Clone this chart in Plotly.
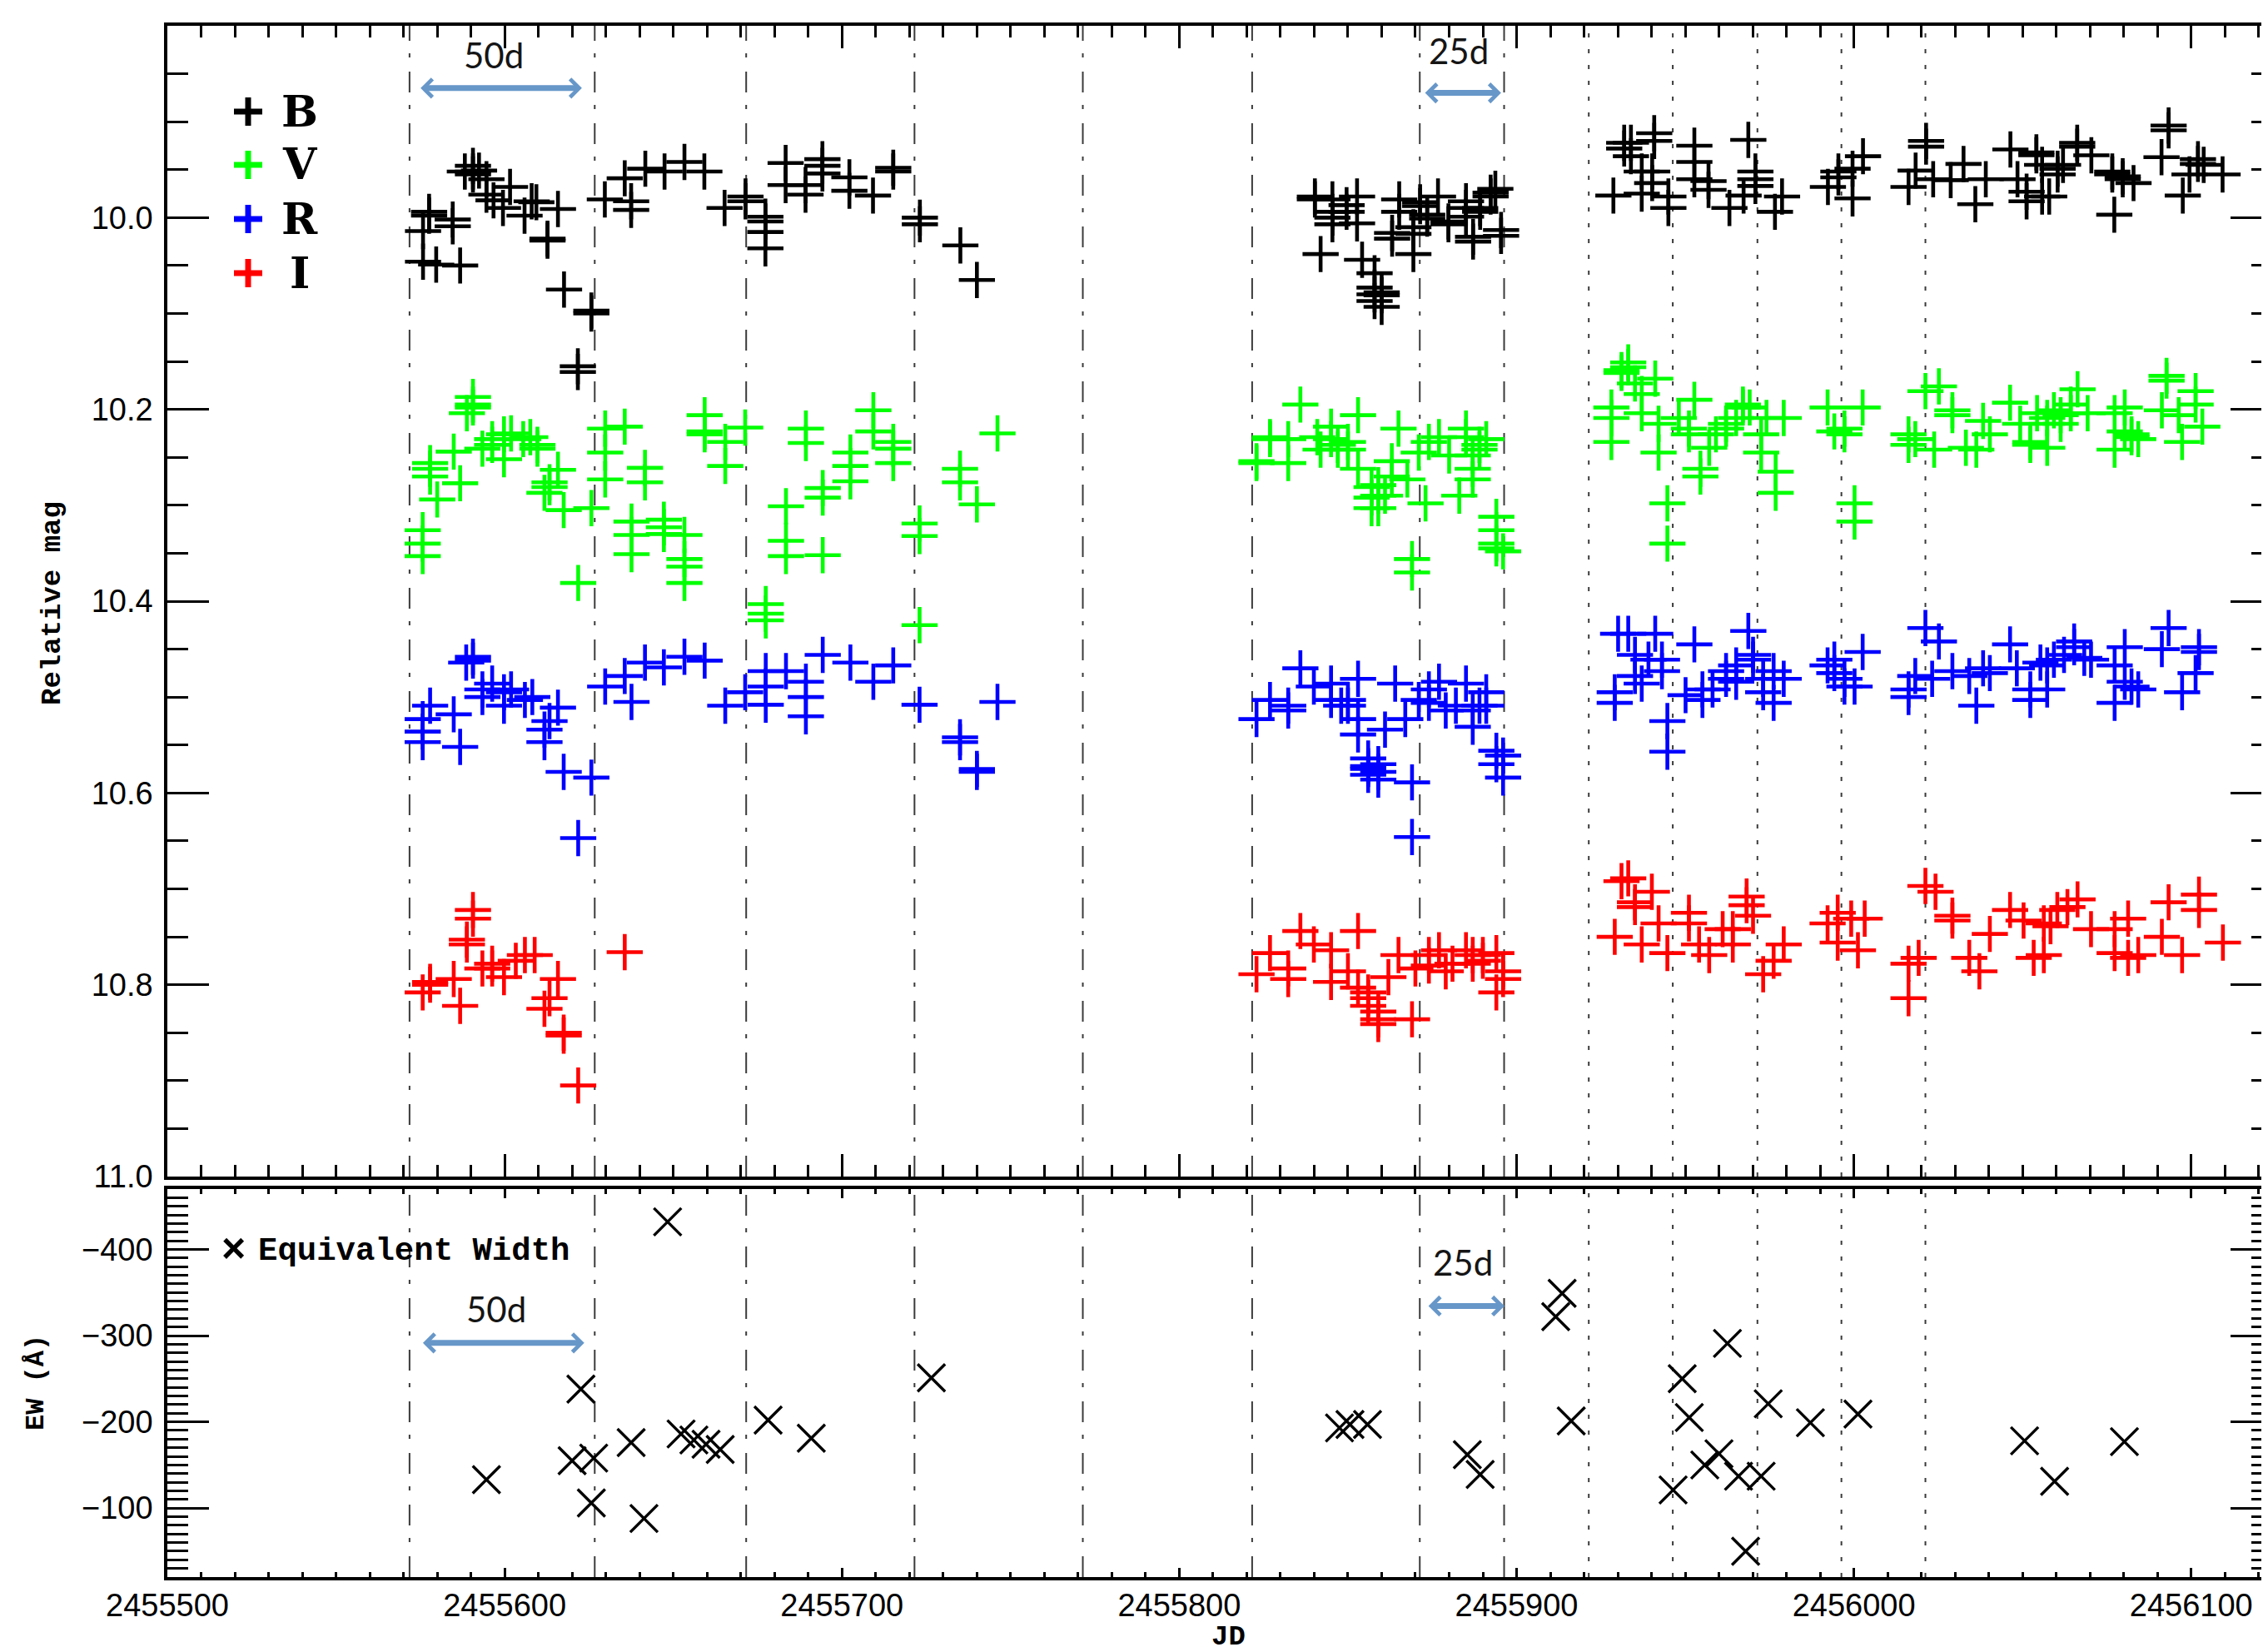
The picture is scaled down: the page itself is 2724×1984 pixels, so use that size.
import plotly.graph_objects as go

# ---------------- data ----------------
# photometry: one JD per night, list of magnitudes measured that night
B_jd = [2455575.8, 2455577.6, 2455579.7, 2455584.6, 2455586.8, 2455588.2, 2455590.6, 2455592.4, 2455594.6,
        2455596.7, 2455599.5, 2455601.6, 2455605.9, 2455608.0, 2455609.4, 2455612.7, 2455615.8, 2455617.6,
        2455621.7, 2455625.7, 2455629.7, 2455635.6, 2455637.5, 2455641.7, 2455647.4, 2455653.3, 2455659.2,
        2455665.2, 2455671.4, 2455677.3, 2455683.3, 2455689.2, 2455694.2, 2455702.2, 2455709.2, 2455715.2,
        2455723.1, 2455735.1, 2455740.0,
        2455840.2, 2455841.9, 2455845.4, 2455849.6, 2455852.7, 2455854.2, 2455857.9, 2455860.0, 2455863.1,
        2455865.2, 2455869.4, 2455871.4, 2455873.5, 2455876.7, 2455879.8, 2455885.0, 2455887.1, 2455889.2,
        2455892.3, 2455893.7, 2455895.4,
        2455928.7, 2455931.9, 2455933.9, 2455937.1, 2455940.8, 2455940.2, 2455945.0, 2455952.7, 2455956.9,
        2455963.1, 2455967.3, 2455968.7, 2455970.8, 2455976.6, 2455978.7, 2455992.3, 2455995.4, 2455999.6,
        2456002.7, 2456016.2, 2456018.3, 2456021.4, 2456023.5, 2456028.7, 2456032.5, 2456036.0, 2456039.1,
        2456046.4, 2456048.5, 2456051.2, 2456054.1, 2456055.8, 2456057.9, 2456060.4, 2456062.0, 2456066.2,
        2456070.4, 2456076.6, 2456077.2, 2456079.7, 2456082.9, 2456091.2, 2456093.3, 2456097.5, 2456099.5,
        2456102.0, 2456103.7, 2456109.3]
B_mag = [[10.014, 10.046], [9.994, 9.998], [10.049], [10.002, 10.009], [10.050], [9.952], [9.946, 9.952, 9.955],
         [9.951], [9.960, 9.976], [9.982], [9.990], [9.968], [9.998], [9.983], [9.984], [10.022, 10.024], [9.991],
         [10.075], [10.155, 10.161], [10.097, 10.100], [9.981], [9.959], [9.983, 9.992], [9.949], [9.952], [9.942],
         [9.952], [9.990], [9.978, 9.983], [9.999, 10.004, 10.015, 10.032], [9.943, 9.966], [9.966, 9.976],
         [9.939, 9.946, 9.954], [9.958, 9.972], [9.977], [9.948, 9.952], [10.000, 10.007], [10.029], [10.065],
         [9.978, 9.981], [10.038], [9.981, 9.994, 10.000, 10.007], [9.987, 9.994], [9.978, 10.006], [10.044],
         [10.058, 10.073, 10.080, 10.087], [10.078, 10.081, 10.093], [10.016, 10.022], [9.981, 9.994],
         [10.010, 10.017, 10.038], [9.984, 9.988], [9.997, 10.001], [9.978], [10.004, 10.007],
         [9.983, 9.990, 9.999], [10.020, 10.025], [9.990, 9.994], [9.974, 9.978], [9.970], [10.013, 10.019],
         [9.977], [9.922, 9.928], [9.922, 9.936], [9.952, 9.975], [9.912, 9.920], [9.952, 9.964], [9.978, 9.990],
         [9.925, 9.942, 9.960], [9.962, 9.971], [9.990], [9.977], [9.919], [9.952, 9.960, 9.967], [9.994], [9.978],
         [9.968], [9.952, 9.958], [9.949, 9.980], [9.936], [9.968], [9.951], [9.920, 9.926], [9.960], [9.961],
         [9.944], [9.986], [9.960], [9.929], [9.960], [9.973, 9.983], [9.932, 9.935], [9.945, 9.978], [9.978],
         [9.949, 9.955], [9.945], [9.922, 9.926], [9.935], [9.952, 9.955], [9.997], [9.957, 9.960], [9.964],
         [9.937], [9.904, 9.909], [9.977], [9.955], [9.939, 9.944], [9.945], [9.955]]

V_jd = [2455575.7, 2455577.9, 2455580.0, 2455584.9, 2455586.8, 2455588.8, 2455590.6, 2455593.4, 2455596.3,
        2455599.8, 2455601.9, 2455605.5, 2455607.6, 2455609.7, 2455611.8, 2455613.3, 2455615.8, 2455617.5,
        2455621.8, 2455625.7, 2455629.8, 2455635.6, 2455637.6, 2455641.6, 2455647.2, 2455653.3, 2455659.3,
        2455665.4, 2455671.3, 2455677.4, 2455683.4, 2455689.3, 2455694.3, 2455702.5, 2455709.3, 2455715.2,
        2455723.0, 2455735.0, 2455740.0, 2455746.1,
        2455822.9, 2455826.9, 2455832.3, 2455835.9, 2455840.9, 2455841.9, 2455845.0, 2455847.0, 2455850.0,
        2455853.0, 2455857.0, 2455859.0, 2455861.0, 2455863.0, 2455865.0, 2455867.6, 2455869.0, 2455871.0,
        2455873.0, 2455874.0, 2455877.0, 2455880.0, 2455883.0, 2455885.0, 2455887.0, 2455889.0, 2455891.0,
        2455894.0, 2455896.0,
        2455928.1, 2455931.1, 2455933.1, 2455935.1, 2455937.1, 2455941.1, 2455942.1, 2455944.7, 2455948.1,
        2455951.1, 2455952.7, 2455954.5, 2455957.1, 2455959.1, 2455962.1, 2455965.1, 2455967.1, 2455969.1,
        2455972.5, 2455974.1, 2455976.8, 2455979.2, 2455992.2, 2455994.2, 2455997.2, 2456000.2, 2456002.6,
        2456016.2, 2456018.2, 2456021.2, 2456023.8, 2456025.2, 2456029.2, 2456033.2, 2456036.3, 2456038.3,
        2456040.3, 2456046.3, 2456049.3, 2456052.3, 2456054.3, 2456057.3, 2456059.3, 2456061.3, 2456064.3,
        2456066.3, 2456069.3, 2456077.3, 2456080.3, 2456082.3, 2456084.3, 2456091.3, 2456092.7, 2456096.3,
        2456097.3, 2456101.3, 2456103.3]
V_mag = [[10.326, 10.340, 10.353], [10.256, 10.262, 10.270], [10.294], [10.244], [10.277], [10.204],
         [10.187, 10.195, 10.198], [10.241], [10.231, 10.237], [10.226, 10.252], [10.225], [10.231], [10.229],
         [10.237, 10.241], [10.287], [10.276, 10.281], [10.263], [10.305], [10.381], [10.303],
         [10.220, 10.245, 10.273], [10.218], [10.317, 10.331, 10.351], [10.261, 10.276], [10.315, 10.323, 10.330],
         [10.331, 10.356, 10.364, 10.381], [10.206, 10.223, 10.226], [10.234, 10.259], [10.219],
         [10.403, 10.413, 10.420], [10.301, 10.337, 10.353], [10.220, 10.235], [10.282, 10.292, 10.352],
         [10.245, 10.259, 10.275], [10.201, 10.223], [10.234, 10.241, 10.256], [10.319, 10.332, 10.425],
         [10.262, 10.276], [10.299], [10.225],
         [10.254, 10.256], [10.229, 10.231], [10.231, 10.256], [10.195], [10.229], [10.242], [10.218, 10.231],
         [10.237, 10.242], [10.234, 10.242], [10.206, 10.262], [10.281, 10.292, 10.303], [10.279, 10.290, 10.303],
         [10.290], [10.254, 10.270], [10.220], [10.273], [10.356, 10.370], [10.245], [10.298], [10.234], [10.229],
         [10.248], [10.290], [10.220, 10.229], [10.248, 10.262, 10.273], [10.237, 10.242], [10.231],
         [10.312, 10.326, 10.340, 10.345], [10.348],
         [10.198, 10.209, 10.234], [10.159, 10.162], [10.151, 10.156], [10.173], [10.184, 10.204], [10.168],
         [10.215, 10.245], [10.298, 10.340], [10.209], [10.220, 10.226], [10.190], [10.262, 10.270], [10.240],
         [10.226], [10.215, 10.220], [10.209], [10.195, 10.198], [10.198], [10.226, 10.245], [10.209],
         [10.265, 10.287], [10.209], [10.198], [10.223], [10.220, 10.226], [10.298, 10.317], [10.198],
         [10.226, 10.237], [10.231], [10.181], [10.242], [10.176], [10.201, 10.206], [10.240], [10.242], [10.212],
         [10.226], [10.193], [10.215], [10.234, 10.237], [10.204], [10.209, 10.215, 10.240], [10.201],
         [10.206, 10.215], [10.195, 10.204], [10.179], [10.204], [10.204, 10.242], [10.198, 10.223],
         [10.226, 10.229], [10.231], [10.201], [10.165, 10.170], [10.206], [10.234], [10.181, 10.195], [10.218]]

R_jd = [2455575.7, 2455577.9, 2455584.9, 2455586.8, 2455588.6, 2455590.6, 2455593.4, 2455596.3, 2455599.8,
        2455601.9, 2455606.0, 2455608.2, 2455611.8, 2455613.3, 2455615.8, 2455617.5, 2455621.8, 2455625.7,
        2455629.8, 2455635.6, 2455637.6, 2455641.6, 2455647.2, 2455653.3, 2455659.3, 2455665.4, 2455671.3,
        2455677.4, 2455683.4, 2455689.3, 2455694.3, 2455702.5, 2455709.3, 2455715.2, 2455723.0, 2455735.0,
        2455740.0, 2455746.1,
        2455822.9, 2455826.9, 2455832.3, 2455835.9, 2455839.9, 2455845.0, 2455848.0, 2455850.0, 2455853.0,
        2455856.0, 2455859.0, 2455861.0, 2455864.0, 2455867.0, 2455869.0, 2455871.0, 2455874.0, 2455877.0,
        2455879.0, 2455882.0, 2455885.0, 2455887.0, 2455889.0, 2455891.0, 2455894.0, 2455896.0,
        2455929.1, 2455930.1, 2455933.1, 2455935.1, 2455937.1, 2455939.1, 2455941.1, 2455943.1, 2455944.7,
        2455950.1, 2455952.7, 2455955.1, 2455958.1, 2455962.1, 2455965.1, 2455968.7, 2455970.1, 2455973.1,
        2455976.2, 2455979.2, 2455992.2, 2455994.2, 2455997.2, 2456000.2, 2456002.6, 2456016.2, 2456018.2,
        2456021.2, 2456023.2, 2456025.2, 2456029.2, 2456034.2, 2456036.3, 2456038.3, 2456040.3, 2456046.3,
        2456048.3, 2456052.3, 2456055.3, 2456057.3, 2456059.3, 2456062.3, 2456065.3, 2456068.3, 2456070.3,
        2456077.3, 2456080.3, 2456082.3, 2456084.3, 2456091.3, 2456093.3, 2456097.3, 2456101.3, 2456102.3]
R_mag = [[10.523, 10.536, 10.547], [10.509], [10.518], [10.552], [10.464], [10.458, 10.462], [10.492, 10.500],
         [10.486], [10.495, 10.509], [10.492], [10.503], [10.500], [10.534, 10.547], [10.525], [10.511], [10.578],
         [10.647], [10.584], [10.489], [10.478], [10.505], [10.464], [10.469], [10.458], [10.462], [10.509],
         [10.495], [10.473, 10.489, 10.508], [10.473], [10.484, 10.500, 10.520], [10.456], [10.464], [10.484],
         [10.467], [10.508], [10.542, 10.547], [10.575, 10.578], [10.505],
         [10.523], [10.503], [10.509, 10.514], [10.470], [10.489], [10.486, 10.503], [10.509], [10.503, 10.509],
         [10.481, 10.523, 10.539], [10.564, 10.572, 10.575, 10.581], [10.570, 10.578, 10.586], [10.534],
         [10.486], [10.523], [10.589, 10.646], [10.503], [10.492, 10.506], [10.484], [10.514], [10.509],
         [10.486], [10.514, 10.531], [10.509], [10.495, 10.509], [10.556, 10.570], [10.561, 10.584],
         [10.495, 10.506], [10.434], [10.434], [10.456, 10.478], [10.486], [10.461], [10.434], [10.461, 10.473],
         [10.525, 10.557], [10.498], [10.445], [10.492, 10.503], [10.492], [10.473, 10.481], [10.467, 10.484],
         [10.431], [10.456, 10.461], [10.481, 10.495], [10.473, 10.506], [10.481], [10.467], [10.461, 10.475],
         [10.481, 10.489], [10.489], [10.453], [10.492, 10.500], [10.478], [10.428], [10.481], [10.442],
         [10.473], [10.478], [10.509], [10.470], [10.475], [10.445], [10.470], [10.492, 10.503], [10.464],
         [10.467, 10.492], [10.461], [10.456], [10.442, 10.448], [10.459], [10.461], [10.467, 10.506],
         [10.448, 10.484], [10.489], [10.492], [10.450], [10.428], [10.495], [10.475], [10.448, 10.453]]

I_jd = [2455575.7, 2455577.9, 2455584.9, 2455586.8, 2455588.8, 2455590.6, 2455593.4, 2455596.3, 2455599.8,
        2455603.3, 2455606.0, 2455608.9, 2455611.8, 2455613.3, 2455615.8, 2455617.5, 2455621.8, 2455635.6,
        2455822.9, 2455826.9, 2455832.3, 2455835.9, 2455839.9, 2455845.0, 2455850.0, 2455853.0, 2455856.0,
        2455859.0, 2455862.0, 2455865.0, 2455869.0, 2455870.0, 2455874.0, 2455877.0, 2455879.0, 2455881.0,
        2455885.0, 2455887.0, 2455890.0, 2455894.0, 2455896.0,
        2455929.1, 2455931.1, 2455933.1, 2455935.1, 2455937.1, 2455940.1, 2455942.1, 2455944.7, 2455951.1,
        2455954.1, 2455957.1, 2455961.1, 2455964.1, 2455968.2, 2455970.1, 2455973.1, 2455976.2, 2455979.2,
        2455992.2, 2455995.2, 2455999.2, 2456001.2, 2456003.2, 2456016.2, 2456019.2, 2456021.2, 2456024.2,
        2456029.2, 2456034.2, 2456037.2, 2456040.3, 2456046.3, 2456050.3, 2456053.3, 2456056.3, 2456058.3,
        2456060.3, 2456063.3, 2456066.3, 2456070.3, 2456077.3, 2456081.3, 2456084.3, 2456091.3, 2456093.3,
        2456097.3, 2456102.3, 2456109.4]
I_mag = [[10.808], [10.797, 10.800], [10.794], [10.822], [10.753, 10.758], [10.722, 10.731], [10.783],
         [10.778, 10.783], [10.792], [10.775], [10.769], [10.769], [10.825], [10.814], [10.794], [10.850, 10.853],
         [10.905], [10.766],
         [10.789], [10.767], [10.783, 10.794], [10.744], [10.758], [10.764, 10.797], [10.786], [10.744, 10.803],
         [10.808, 10.814, 10.822], [10.828, 10.836, 10.841], [10.792], [10.769], [10.836], [10.783],
         [10.769, 10.780], [10.764], [10.786], [10.778], [10.764], [10.769, 10.778], [10.769, 10.775],
         [10.767, 10.808], [10.786, 10.794],
         [10.750], [10.692], [10.689], [10.714, 10.719], [10.758], [10.703], [10.736], [10.767], [10.725, 10.736],
         [10.758], [10.769], [10.742], [10.742, 10.758], [10.708, 10.717], [10.728], [10.789], [10.775], [10.758],
         [10.736], [10.725, 10.756], [10.731], [10.764], [10.731], [10.778, 10.814], [10.772], [10.697], [10.703],
         [10.728, 10.733], [10.772], [10.786], [10.747], [10.722], [10.733], [10.772], [10.736, 10.769], [10.739],
         [10.722], [10.719], [10.711], [10.742], [10.742, 10.767], [10.731, 10.772], [10.769], [10.750], [10.714],
         [10.769], [10.706, 10.722], [10.756]]

# equivalent width of the emission line
EW_jd = [2455594.6, 2455620.0, 2455622.6, 2455626.4, 2455625.7, 2455637.5, 2455641.3, 2455648.3, 2455652.3,
         2455656.1, 2455659.7, 2455663.9, 2455678.1, 2455690.9, 2455726.5, 2455847.5, 2455850.6, 2455855.8,
         2455885.4, 2455889.2, 2455911.6, 2455913.5, 2455916.2, 2455946.4, 2455949.1, 2455951.2, 2455955.8,
         2455960.0, 2455962.5, 2455965.8, 2455967.9, 2455972.5, 2455974.6, 2455987.1, 2456001.2, 2456050.6,
         2456059.5, 2456080.2]
EW_val = [-133, -155, -238, -158, -106, -176, -88, -432, -186, -179, -174, -168, -202, -181, -251, -193, -197,
          -197, -162, -139, -322, -349, -201, -121, -250, -205, -150, -163, -291, -137, -50, -137, -221, -199,
          -209, -178, -131, -177]

# epochs marked with vertical lines, and their style group
vline_jd = [2455571.8, 2455626.7, 2455671.6, 2455721.5, 2455771.4, 2455821.6, 2455871.3, 2455896.3,
            2455921.4, 2455946.3, 2455971.4, 2455996.3, 2456021.2]
vline_kind = ["dashdot"] * 8 + ["dot"] * 5

# interval annotations (label, start JD, end JD, arrow level, label level, panel)
span_label = ["50d", "25d", "50d", "25d"]
span_start = [2455574.7, 2455872.5, 2455575.4, 2455873.5]
span_end = [2455622.9, 2455895.4, 2455623.6, 2455896.4]
span_level = [9.865, 9.870, -291.5, -334.4]
span_text_x = [2455596.7, 2455882.9, 2455597.4, 2455884.0]
span_text_level = [9.830, 9.826, -331.0, -385.0]
span_panel = ["top", "top", "bottom", "bottom"]

bands = ["B", "V", "R", "I"]
band_colors = {"B": "#000000", "V": "#00FF00", "R": "#0000FF", "I": "#FF0000"}
band_jd = {"B": B_jd, "V": V_jd, "R": R_jd, "I": I_jd}
band_mag = {"B": B_mag, "V": V_mag, "R": R_mag, "I": I_mag}

x_ticks = [2455500, 2455600, 2455700, 2455800, 2455900, 2456000, 2456100]
mag_ticks = [10.0, 10.2, 10.4, 10.6, 10.8, 11.0]
ew_ticks = [-400, -300, -200, -100]

# ---------------- layout geometry (pixels) ----------------
W, H = 2724, 1984
ML, MR, MT, MB = 193, 3, 23, 98
PW, PH = W - ML - MR, H - MT - MB


def px(X):
    return (X - ML) / PW


def py(Y):
    return (H - MB - Y) / PH


fig = go.Figure()

for b in bands:
    xs, ys = [], []
    for jd, mags in zip(band_jd[b], band_mag[b]):
        for m in mags:
            xs.append(jd)
            ys.append(m)
    fig.add_trace(go.Scatter(
        x=xs, y=ys, mode="markers", name=b, xaxis="x", yaxis="y", showlegend=False,
        marker=dict(symbol="cross-thin", size=31, color=band_colors[b],
                    line=dict(width=4.6, color=band_colors[b]))))

fig.add_trace(go.Scatter(
    x=EW_jd, y=EW_val, mode="markers", name="Equivalent Width", xaxis="x2", yaxis="y2", showlegend=False,
    marker=dict(symbol="x-thin", size=33, color="black", line=dict(width=3.4, color="black"))))

# vertical epoch lines
dash_map = {"dashdot": "25px,17px,5px,15px", "dot": "5px,14px"}
shapes = []
for jd, kind in zip(vline_jd, vline_kind):
    for xr, yr in (("x", "y domain"), ("x2", "y2 domain")):
        shapes.append(dict(type="line", xref=xr, yref=yr, x0=jd, x1=jd, y0=0, y1=1,
                           line=dict(color="#3a3a3a", width=2, dash=dash_map[kind]), layer="below"))

annotations = []
arrow_col = "#6797C9"
for lab, s, e, lev, tx, tl, pan in zip(span_label, span_start, span_end, span_level,
                                       span_text_x, span_text_level, span_panel):
    xr, yr = ("x", "y") if pan == "top" else ("x2", "y2")
    annotations.append(dict(x=e, y=lev, ax=s, ay=lev, xref=xr, yref=yr, axref=xr, ayref=yr,
                            text="", showarrow=True, arrowhead=4, startarrowhead=4,
                            arrowside="end+start", arrowsize=0.6, startarrowsize=0.6,
                            arrowwidth=7, arrowcolor=arrow_col))
    annotations.append(dict(x=tx, y=tl, xref=xr, yref=yr, text=lab, showarrow=False,
                            xanchor="center", yanchor="middle",
                            font=dict(family="Lato", size=42, color="#151515")))


def paper_text(X, Y, text, size, family="Liberation Mono", color="black", angle=0, xanchor="center",
               pad=1):
    annotations.append(dict(x=px(X), y=py(Y), xref="paper", yref="paper", text=text, showarrow=False,
                            xanchor=xanchor, yanchor="middle", textangle=angle, borderpad=pad,
                            font=dict(family=family, size=size, color=color)))


def paper_line(X0, Y0, X1, Y1, color, width):
    shapes.append(dict(type="line", xref="paper", yref="paper", x0=px(X0), y0=py(Y0), x1=px(X1), y1=py(Y1),
                       line=dict(color=color, width=width)))


# legend for the photometric bands: a bold plus glyph drawn with two strokes, then the band letter
leg_y = [124, 188, 253, 318]
for b, Y in zip(bands, leg_y):
    cx, cy, hw = 290, Y + 2, 17
    paper_line(cx - hw, cy, cx + hw, cy, band_colors[b], 7)
    paper_line(cx, cy - hw, cx, cy + hw, band_colors[b], 7)
    paper_text(352, Y + 1, "<b>%s</b>" % b, 52, family="DejaVu Serif", pad=0)

paper_text(272, 1491, "<b>×</b>", 50, family="Liberation Sans")
paper_text(300, 1495, "<b>Equivalent Width</b>", 39, xanchor="left")

# axis titles
paper_text(55, 717, "<b>Relative mag</b>", 34, angle=-90)
paper_text(35, 1653, "<b>EW (Å)</b>", 32, angle=-90)
paper_text(1467, 1958, "<b>JD</b>", 34)

tick_font = dict(family="Liberation Sans", size=38, color="black")
common_x = dict(range=[2455500, 2456124], showgrid=False, zeroline=False, showline=True,
                linecolor="black", linewidth=3.5, mirror="ticks", ticks="inside", tickcolor="black",
                tickwidth=3, tickvals=x_ticks, ticktext=[str(v) for v in x_ticks])

fig.update_layout(
    width=W, height=H, paper_bgcolor="white", plot_bgcolor="white",
    margin=dict(l=ML, r=MR, t=MT, b=MB, autoexpand=False),
    xaxis=dict(common_x, anchor="y", matches="x2", showticklabels=False, ticklen=27,
               minor=dict(ticks="inside", dtick=10, tick0=2455500, ticklen=14, tickwidth=2.5,
                          tickcolor="black", showgrid=False)),
    xaxis2=dict(common_x, anchor="y2", showticklabels=True, ticklen=11, tickfont=tick_font,
                ticklabelstandoff=-2,
                minor=dict(ticks="inside", dtick=10, tick0=2455500, ticklen=6, tickwidth=2.5,
                           tickcolor="black", showgrid=False)),
    yaxis=dict(domain=[py(1405), 1.0], anchor="x", range=[11.0, 9.8], showgrid=False, zeroline=False,
               showline=True, linecolor="black", linewidth=3.5, mirror="ticks", ticks="inside",
               tickcolor="black", tickwidth=3, ticklen=50, tickvals=mag_ticks,
               ticktext=["%.1f" % v for v in mag_ticks], tickfont=tick_font, ticklabelstandoff=6,
               minor=dict(ticks="inside", dtick=0.05, tick0=9.8, ticklen=25, tickwidth=3,
                          tickcolor="black", showgrid=False)),
    yaxis2=dict(domain=[0.0, py(1420)], anchor="x2", range=[-20, -470], showgrid=False, zeroline=False,
                showline=True, linecolor="black", linewidth=3.5, mirror="ticks", ticks="inside",
                tickcolor="black", tickwidth=3, ticklen=50, tickvals=ew_ticks,
                ticktext=["\u2212%d" % abs(v) for v in ew_ticks], tickfont=tick_font, ticklabelstandoff=6,
                minor=dict(ticks="inside", dtick=10, tick0=0, ticklen=25, tickwidth=3,
                           tickcolor="black", showgrid=False)),
    shapes=shapes,
    annotations=annotations,
)

fig.write_html("out.html")
